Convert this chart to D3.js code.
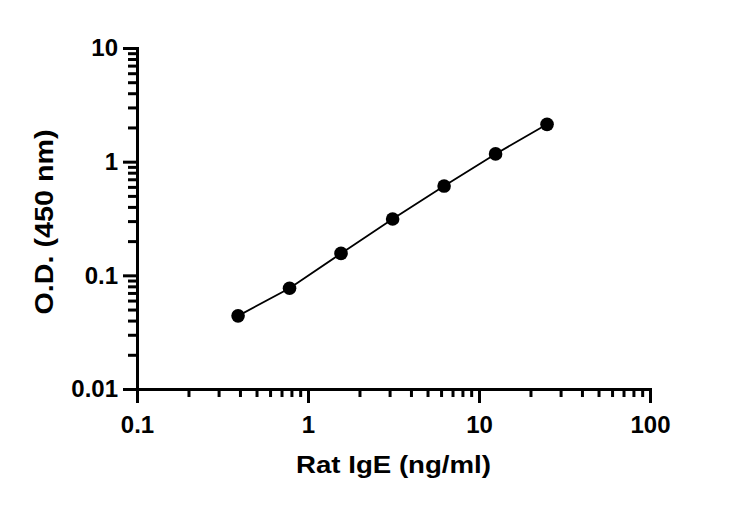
<!DOCTYPE html>
<html>
<head>
<meta charset="utf-8">
<script src="https://cdn.jsdelivr.net/npm/d3@7"></script>
<style>
  body { margin: 0; background: #fff; }
  svg text { font-family: "Liberation Sans", Arial, sans-serif; font-weight: bold; fill: #000; }
</style>
</head>
<body>
<svg id="chart" width="731" height="507"></svg>
<script>
// concentration (ng/ml) and optical density readings
const conc = [0.39, 0.78, 1.56, 3.125, 6.25, 12.5, 25];
const od = [0.044, 0.077, 0.156, 0.313, 0.61, 1.17, 2.13];
const xMajor = [0.1, 1, 10, 100];
const yMajor = [0.01, 0.1, 1, 10];
const xLabels = ["0.1", "1", "10", "100"];
const yLabels = ["0.01", "0.1", "1", "10"];

const svg = d3.select("#chart");
const margin = { left: 137, top: 48, right: 81, bottom: 118 };
const width = 731 - margin.left - margin.right;
const height = 507 - margin.top - margin.bottom;

const g = svg.append("g").attr("transform", `translate(${margin.left},${margin.top})`);

const x = d3.scaleLog().domain([0.1, 100]).range([0, width]);
const y = d3.scaleLog().domain([0.01, 10]).range([height, 0]);

// minor ticks 2..9 in every decade
function minors(majors) {
  const out = [];
  majors.slice(0, -1).forEach((m) => {
    for (let k = 2; k <= 9; k++) out.push(m * k);
  });
  return out;
}

// minor tick axes (no labels)
g.append("g")
  .attr("transform", `translate(0,${height})`)
  .call(d3.axisBottom(x).tickValues(minors(xMajor)).tickSize(8).tickFormat(""));
g.append("g")
  .call(d3.axisLeft(y).tickValues(minors(yMajor)).tickSize(9).tickFormat(""));

// major axes
g.append("g")
  .attr("class", "x-axis")
  .attr("transform", `translate(0,${height})`)
  .call(d3.axisBottom(x).tickValues(xMajor).tickSize(14).tickSizeOuter(0)
    .tickFormat((d, i) => xLabels[i]))
  .selectAll("text")
  .attr("font-size", 24)
  .attr("y", 27)
  .attr("dy", "0.71em");

g.append("g")
  .attr("class", "y-axis")
  .call(d3.axisLeft(y).tickValues(yMajor).tickSize(14).tickSizeOuter(0)
    .tickFormat((d, i) => yLabels[i]))
  .selectAll("text")
  .attr("font-size", 24)
  .attr("x", -19);

g.selectAll(".domain, .tick line")
  .attr("stroke", "#000")
  .attr("stroke-width", 3);
g.selectAll(".domain").attr("stroke-linecap", "square");

// connecting line
g.append("path")
  .datum(conc.map((c, i) => [c, od[i]]))
  .attr("fill", "none")
  .attr("stroke", "#000")
  .attr("stroke-width", 1.8)
  .attr("d", d3.line().x((d) => x(d[0])).y((d) => y(d[1])));

// points
g.selectAll(".dot")
  .data(conc)
  .join("circle")
  .attr("class", "dot")
  .attr("cx", (d) => x(d))
  .attr("cy", (d, i) => y(od[i]))
  .attr("r", 6.8)
  .attr("fill", "#000");

// axis titles
svg.append("text")
  .attr("text-anchor", "middle")
  .attr("x", margin.left + width / 2)
  .attr("y", 473)
  .attr("font-size", 24)
  .attr("textLength", 195)
  .attr("lengthAdjust", "spacingAndGlyphs")
  .text("Rat IgE (ng/ml)");

svg.append("text")
  .attr("text-anchor", "middle")
  .attr("transform", "rotate(-90)")
  .attr("x", -222)
  .attr("y", 53)
  .attr("font-size", 25)
  .attr("textLength", 185)
  .attr("lengthAdjust", "spacingAndGlyphs")
  .text("O.D. (450 nm)");
</script>
</body>
</html>
